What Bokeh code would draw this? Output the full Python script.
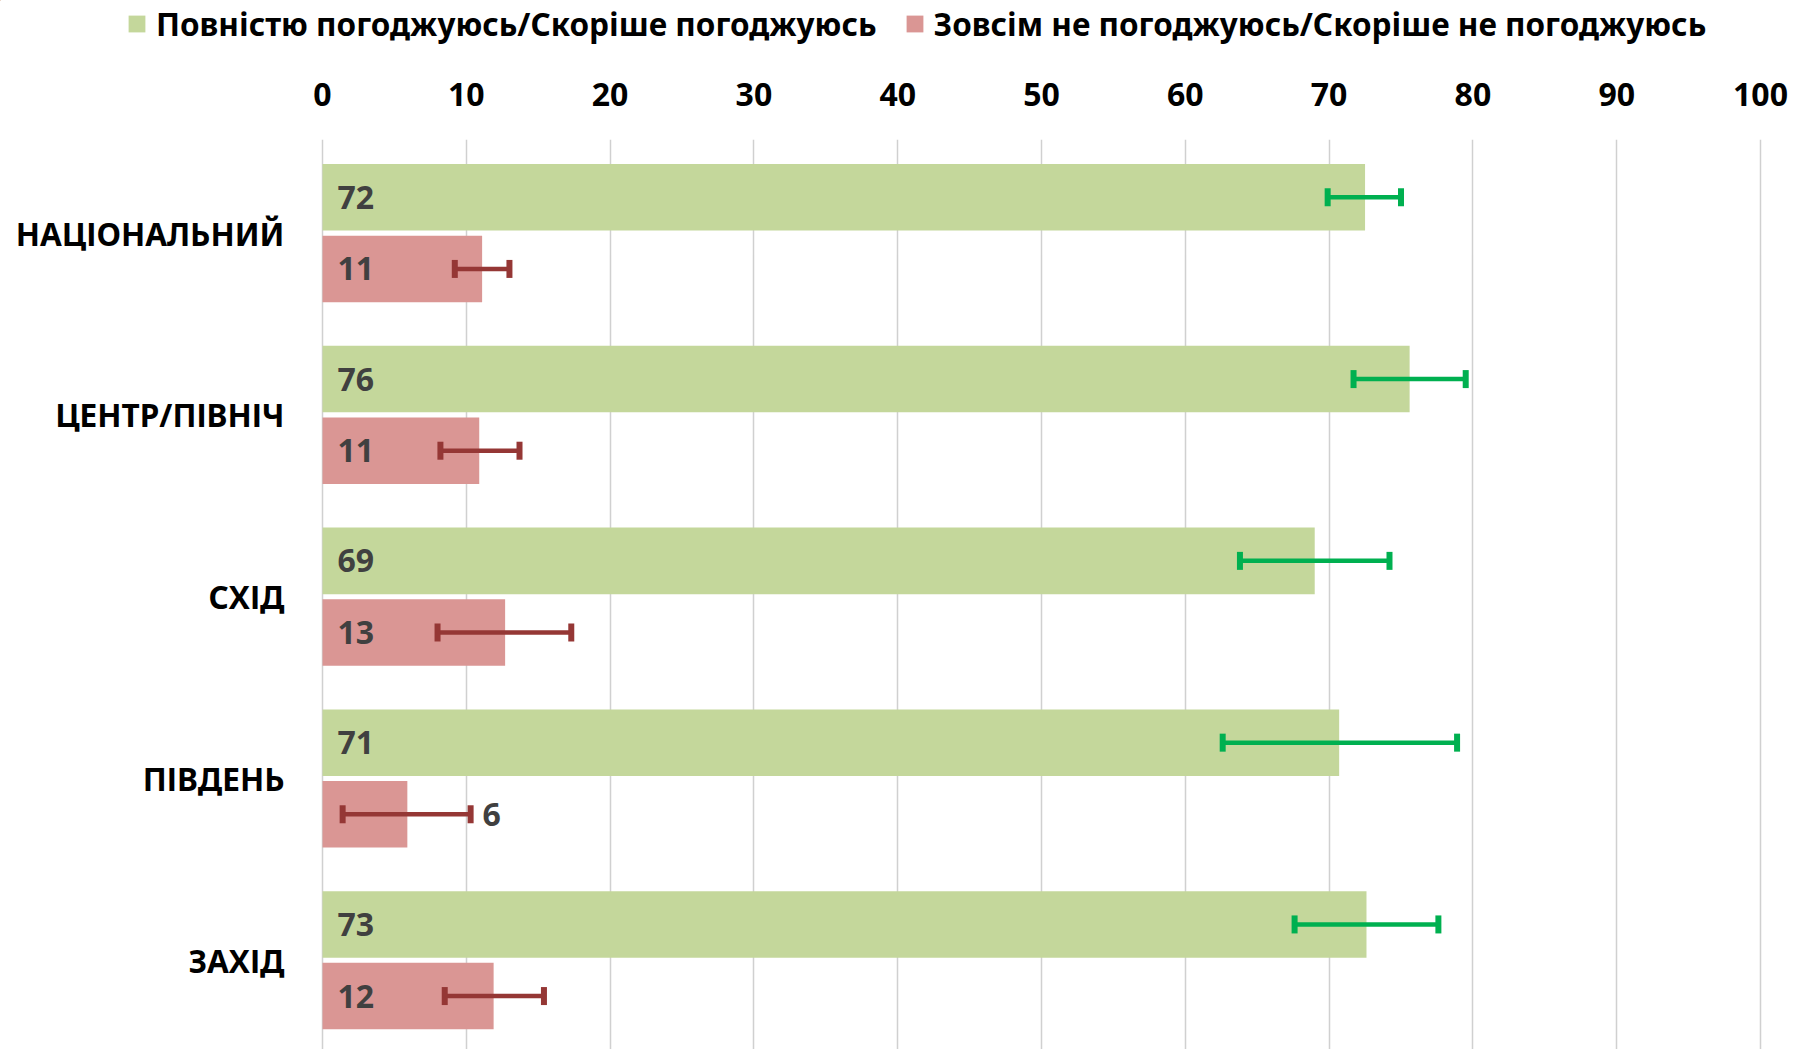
from bokeh.plotting import figure
from bokeh.layouts import column
from bokeh.models import (ColumnDataSource, Whisker, TeeHead, Legend, LegendItem,
                          FixedTicker, Range1d)
from bokeh.core.properties import value
from bokeh.embed import file_html
from bokeh.resources import INLINE

# ---------------- data ----------------
regions = ["НАЦІОНАЛЬНИЙ", "ЦЕНТР/ПІВНІЧ", "СХІД", "ПІВДЕНЬ", "ЗАХІД"]
agree = [72.5, 75.6, 69.0, 70.7, 72.6]
agree_low = [69.9, 71.7, 63.8, 62.6, 67.6]
agree_high = [75.0, 79.5, 74.2, 78.9, 77.6]
disagree = [11.1, 10.9, 12.7, 5.9, 11.9]
disagree_low = [9.2, 8.2, 8.0, 1.4, 8.5]
disagree_high = [13.0, 13.7, 17.3, 10.3, 15.4]
agree_labels = ["72", "76", "69", "71", "73"]
disagree_labels = ["11", "11", "13", "6", "12"]
legend_labels = ["Повністю погоджуюсь/Скоріше погоджуюсь",
                 "Зовсім не погоджуюсь/Скоріше не погоджуюсь"]
x_ticks = [0, 10, 20, 30, 40, 50, 60, 70, 80, 90, 100]

# ---------------- style / layout ----------------
GREEN = "#C4D79B"
RED = "#DA9694"
GREEN_ERR = "#00B050"
RED_ERR = "#953735"
FONT = "Noto Sans"
OFF = 0.197
BAR_H = 0.366
W, H = 1796, 1049
LEG_H = 50
PLOT_LEFT, PLOT_RIGHT = 322, 1760          # pixel positions of 0 and 100
PX_PER_UNIT = (PLOT_RIGHT - PLOT_LEFT) / (x_ticks[-1] - x_ticks[0])
X_START = x_ticks[0] - PLOT_LEFT / PX_PER_UNIT
X_END = x_ticks[-1] + (W - PLOT_RIGHT) / PX_PER_UNIT

idx = list(range(len(regions)))
src = ColumnDataSource(dict(
    y_a=[i - OFF for i in idx],
    y_d=[i + OFF for i in idx],
    y_c=idx,
    regions=regions,
    agree=agree, agree_low=agree_low, agree_high=agree_high,
    disagree=disagree, disagree_low=disagree_low, disagree_high=disagree_high,
    agree_labels=agree_labels, disagree_labels=disagree_labels,
    zero=[0] * len(idx),
    d_lab_x=[0 if v >= 8 else h for v, h in zip(disagree, disagree_high)],
    d_lab_off=[15 if v >= 8 else 12 for v in disagree],
))

# ---------------- legend strip ----------------
lf = figure(width=W, height=LEG_H, output_backend="svg", toolbar_location=None,
            x_range=Range1d(500, 501), y_range=Range1d(-50, -49),
            x_axis_location=None, y_axis_location=None,
            min_border_left=0, min_border_right=0, min_border_top=0,
            min_border_bottom=0)
lf.outline_line_color = None
lf.xgrid.grid_line_color = None
lf.ygrid.grid_line_color = None
# these renderers only provide the legend swatches (their bars lie outside this view)
la = lf.hbar(y="y_a", right="agree", left=0, height=BAR_H, source=src,
             fill_color=GREEN, line_color=None)
ld = lf.hbar(y="y_d", right="disagree", left=0, height=BAR_H, source=src,
             fill_color=RED, line_color=None)
legend = Legend(items=[LegendItem(label=legend_labels[0], renderers=[la], index=0),
                       LegendItem(label=legend_labels[1], renderers=[ld], index=0)],
                orientation="horizontal", location=(126, 5),
                glyph_width=21, glyph_height=21, label_standoff=9, spacing=27,
                padding=0, margin=0, border_line_color=None,
                background_fill_alpha=0,
                label_text_font=FONT, label_text_font_style="bold",
                label_text_font_size="31.5px", label_text_color="#000000")
lf.add_layout(legend, "center")

# ---------------- main chart ----------------
p = figure(width=W, height=H - LEG_H, output_backend="svg",
           toolbar_location=None,
           x_range=Range1d(X_START, X_END), y_range=Range1d(4.491, -0.515),
           x_axis_location="above", y_axis_location=None,
           min_border_left=0, min_border_right=0, min_border_top=139 - LEG_H,
           min_border_bottom=0)
p.outline_line_color = None
p.background_fill_color = "white"

p.hbar(y="y_a", left=0, right="agree", height=BAR_H, source=src,
       fill_color=GREEN, line_color=None)
p.hbar(y="y_d", left=0, right="disagree", height=BAR_H, source=src,
       fill_color=RED, line_color=None)

for base, lo, hi, col in (("y_a", "agree_low", "agree_high", GREEN_ERR),
                          ("y_d", "disagree_low", "disagree_high", RED_ERR)):
    w = Whisker(source=src, base=base, lower=lo, upper=hi, dimension="width",
                line_color=col, line_width=4.5, level="annotation",
                upper_head=TeeHead(size=18, line_color=col, line_width=6),
                lower_head=TeeHead(size=18, line_color=col, line_width=6))
    p.add_layout(w)

common = dict(source=src, text_baseline="middle", text_align="left",
              text_font=value(FONT), text_font_style="bold",
              text_font_size="32px", text_color="#404040")
p.text(x="zero", y="y_a", text="agree_labels", x_offset=15, **common)
p.text(x="d_lab_x", y="y_d", text="disagree_labels", x_offset="d_lab_off", **common)

# category labels
p.text(x="zero", y="y_c", text="regions", source=src, x_offset=-38,
       text_align="right", text_baseline="middle", text_font=value(FONT),
       text_font_style="bold", text_font_size="31.5px", text_color="#000000")

xa = p.xaxis[0]
xa.ticker = FixedTicker(ticks=x_ticks)
xa.axis_line_color = None
xa.major_tick_line_color = None
xa.minor_tick_line_color = None
xa.major_label_standoff = 28
xa.major_label_text_font = FONT
xa.major_label_text_font_style = "bold"
xa.major_label_text_font_size = "32px"
xa.major_label_text_color = "#000000"

p.xgrid.grid_line_color = "#D0D0D0"
p.xgrid.grid_line_width = 1.5
p.ygrid.grid_line_color = None

layout = column(lf, p, spacing=0)
open("out.html", "w").write(file_html(layout, INLINE))
